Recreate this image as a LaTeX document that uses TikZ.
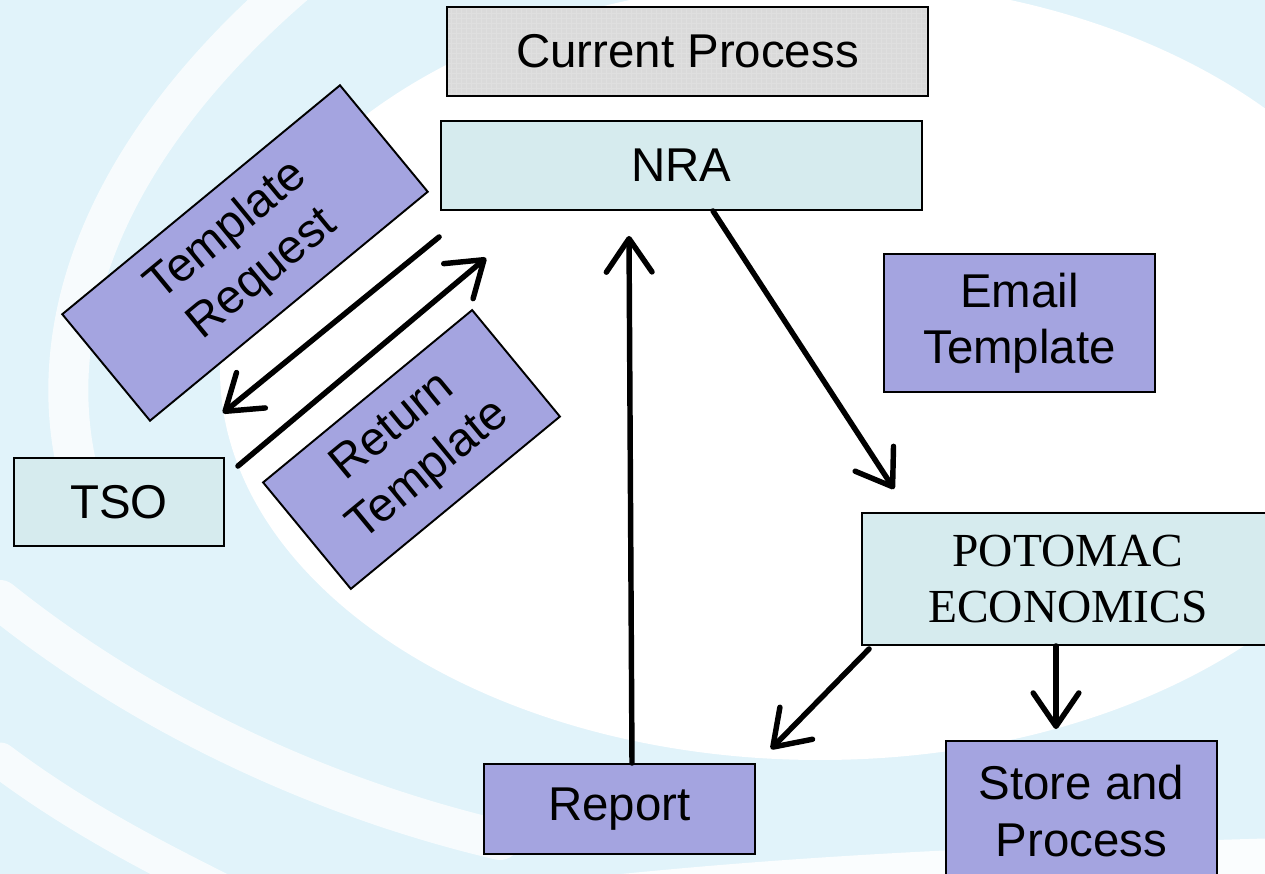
\documentclass[tikz,border=0pt]{standalone}
\usepackage{fontspec}
\setsansfont{Liberation Sans}
\newfontfamily\potomacfont{Liberation Serif}
\usepackage{tikz}
\usetikzlibrary{arrows.meta,calc}
\usepackage{xcolor}

\definecolor{bgblue}{RGB}{225,243,250}
\definecolor{boxcyan}{RGB}{214,235,238}
\definecolor{lilac}{RGB}{164,164,224}
\definecolor{hdrgray}{RGB}{218,218,218}

\begin{document}
\begin{tikzpicture}[x=0.02cm, y=-0.02cm,
    box/.style={draw, line width=1.1pt, fill=boxcyan, inner sep=0pt, align=center,
        font=\sffamily\fontsize{27}{32}\selectfont},
    lilacbox/.style={box, fill=lilac},
    flow/.style={line width=3.1pt, line cap=round, line join=round,
        -{Straight Barb[length=19pt,width=26pt,line cap=round,line join=round]}}]
    \useasboundingbox (0,0) rectangle (1265,874);
    \clip (0,0) rectangle (1265,874);

    % Background swirl
    \fill[bgblue] (0,0) rectangle (1265,874);
    \fill[white] (820,370) ellipse [x radius=600, y radius=390];
    \draw[white, opacity=0.75, line width=0.8cm, line cap=round] (300,-20) .. controls (100,150) and (40,330) .. (80,480);
    \draw[white, opacity=0.75, line width=0.8cm, line cap=round] (0,600) .. controls (150,720) and (330,800) .. (500,840);
    \draw[white, opacity=0.75, line width=0.7cm, line cap=round] (0,760) .. controls (80,820) and (160,860) .. (240,900);
    \draw[white, opacity=0.85, line width=0.9cm] (500,910) .. controls (750,880) and (950,870) .. (1300,860);

    % Title
    \node[box, fill=hdrgray, minimum width=9.62cm, minimum height=1.78cm,
        path picture={\draw[white!75!gray, line width=0.2pt, step=0.1cm]
            (path picture bounding box.south west) grid (path picture bounding box.north east);}]
        (title) at (687.5,51.5) {Current Process};

    % Parties
    \node[box, minimum width=9.62cm, minimum height=1.78cm] (nra) at (681.5,165.5) {NRA};
    \node[box, minimum width=4.2cm, minimum height=1.76cm] (tso) at (119,502) {TSO};
    \node[box, minimum width=8.24cm, minimum height=2.64cm, font=\potomacfont\fontsize{27}{32}\selectfont]
        (potomac) at (1068,579) {POTOMAC\\ECONOMICS};

    % Steps
    \node[lilacbox, minimum width=7.2cm, minimum height=2.76cm, rotate=39.5]
        (request) at (245,253) {Template\\Request};
    \node[lilacbox, minimum width=5.42cm, minimum height=2.76cm, rotate=39.5]
        (return) at (411.5,449.5) {Return\\Template};
    \node[lilacbox, minimum width=5.42cm, minimum height=2.76cm] (email) at (1019.5,323) {Email\\Template};
    \node[lilacbox, minimum width=5.42cm, minimum height=1.8cm] (report) at (619.5,809) {Report};
    \node[lilacbox, minimum width=5.42cm, minimum height=2.8cm] (store) at (1081.5,811) {Store and\\Process};

    % Template exchange NRA <-> TSO
    \draw[flow] ($(nra.south west)+(-1,26)$) -- ($(tso.north east)+(-2,-44)$);
    \draw[flow] ($(tso.north east)+(13,9)$) -- ($(nra.south west)+(46,47)$);

    % NRA -> Potomac -> Report / Store
    \draw[flow] ($(nra.south)+(31.5,0)$) -- ($(potomac.north west)+(33,-23)$);
    \draw[flow] ($(potomac.south west)+(8,3)$) -- ($(report.north east)+(15,-14)$);
    \draw[flow] ($(potomac.south)+(-12,0)$) -- ($(store.north)+(-25.5,-11)$);

    % Report back to NRA
    \draw[flow] ($(report.north)+(12.5,0)$) -- ($(nra.south)+(-52.5,25)$);
\end{tikzpicture}
\end{document}
